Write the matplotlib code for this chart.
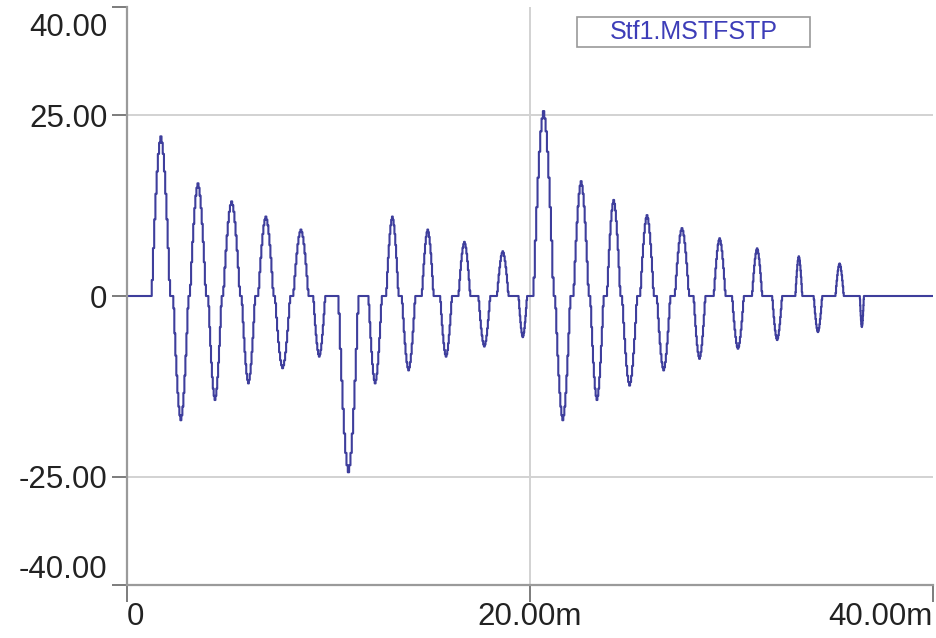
import numpy as np
import matplotlib.pyplot as plt
from matplotlib.transforms import ScaledTranslation
from matplotlib.patches import Rectangle

plt.rcParams['font.family'] = ['Liberation Sans', 'DejaVu Sans']

# lobes of the stepped waveform (time in ms, peak value)
lobe_start = [1.23, 2.30, 3.13, 4.04, 4.78, 5.70, 6.52, 7.35, 8.26, 9.25,
              10.50, 11.99, 12.87, 13.65, 14.64, 15.55, 16.46, 17.45, 18.37, 19.44,
              20.18, 21.26, 22.17, 23.00, 23.83, 24.58, 25.48, 26.31, 27.20, 28.13,
              29.13, 30.04, 31.03, 32.03, 33.18, 34.09, 35.17, 36.38]
lobe_end = [2.14, 3.05, 3.92, 4.70, 5.61, 6.36, 7.27, 8.10, 9.01, 9.84,
            11.49, 12.65, 13.48, 14.31, 15.22, 16.13, 17.04, 18.03, 18.94, 19.86,
            21.18, 22.01, 22.92, 23.66, 24.49, 25.32, 26.15, 26.97, 27.90, 28.71,
            29.71, 30.62, 31.53, 32.52, 33.52, 34.51, 35.58, 36.58]
lobe_peak = [22.1, -17.2, 15.6, -14.4, 13.1, -12.1, 11.0, -10.0, 9.2, -8.4,
             -24.4, -12.1, 11.0, -10.3, 9.2, -8.4, 7.5, -7.0, 6.2, -5.7,
             25.6, -17.2, 15.9, -14.4, 13.3, -12.4, 11.2, -10.3, 9.4, -8.7,
             8.0, -7.3, 6.6, -6.1, 5.5, -5.0, 4.5, -4.3]
# relative step heights inside one lobe
profile = [0.1, 0.3, 0.48, 0.64, 0.78, 0.89, 0.96, 1.0, 0.96, 0.89, 0.78, 0.64, 0.48, 0.3, 0.1]

yticks = [40, 25, 0, -25, -40]
ylabels = ['40.00', '25.00', '0', '-25.00', '-40.00']
xticks = [0, 20, 40]
xlabels = ['0', '20.00m', '40.00m']

t = [0.0]
v = [0.0]
n = len(profile)
for s, e, p in zip(lobe_start, lobe_end, lobe_peak):
    t.append(s)
    v.append(0.0)
    for k in range(n):
        t.append(s + k * (e - s) / n)
        v.append(p * profile[k])
    t.append(e)
    v.append(0.0)
t.append(40.0)
v.append(0.0)

fig = plt.figure(figsize=(9.37, 6.38), dpi=100)
ax = fig.add_axes([0.1355, 0.0831, 0.860, 0.9059])

for yy in [25, -25]:
    ax.axhline(yy, color='#d2d2d2', lw=1.4, zorder=0)
ax.axvline(20, color='#d2d2d2', lw=1.4, zorder=0)

ax.plot(t, v, drawstyle='steps-post', color='#3e3e9c', lw=1.5)

ax.set_xlim(0, 40)
ax.set_ylim(-40, 40)
for s in ['top', 'right']:
    ax.spines[s].set_visible(False)
for s in ['left', 'bottom']:
    ax.spines[s].set_color('#9a9a9a')
    ax.spines[s].set_linewidth(1.6)

ax.set_yticks(yticks)
ax.set_yticklabels(ylabels, fontsize=22.5, color='#222222')
ax.set_xticks(xticks)
ax.set_xticklabels(xlabels, fontsize=22.5, color='#222222')
ax.tick_params(axis='y', direction='out', length=11, width=1.2, color='#666666', pad=3)
ax.tick_params(axis='x', direction='out', length=12, width=1.2, color='#666666', pad=0)

xl = ax.get_xticklabels()
xl[0].set_ha('left')
xl[2].set_ha('right')
yl = ax.get_yticklabels()
yl[0].set_va('top')
yl[0].set_transform(yl[0].get_transform() + ScaledTranslation(0, -4 / 72, fig.dpi_scale_trans))
yl[-1].set_va('bottom')

fig.patches.append(Rectangle((577 / 937, 1 - 47 / 638), 233 / 937, 30 / 638,
                             transform=fig.transFigure, fc='white', ec='#999999', lw=1.2))
fig.text(694 / 937, 1 - 32 / 638, 'Stf1.MSTFSTP', ha='center', va='center',
         fontsize=18, color='#3d3db8')

fig.savefig('out.png', dpi=100)
